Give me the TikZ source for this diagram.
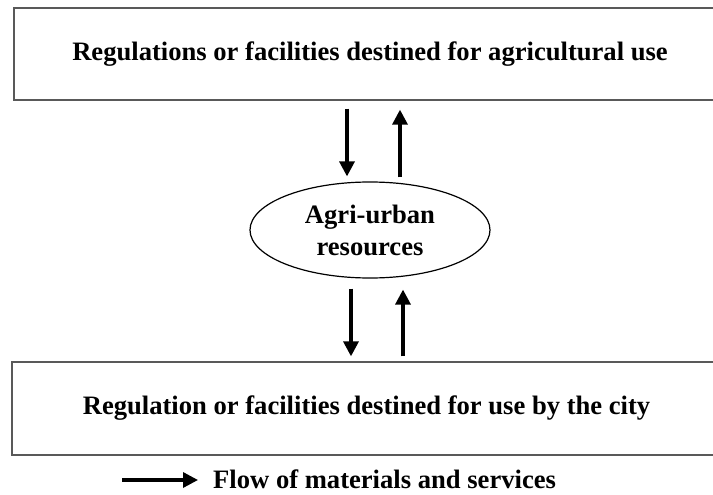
\documentclass[tikz,border=0pt]{standalone}
\usepackage{fontspec}
\setmainfont{Liberation Serif}
\usetikzlibrary{arrows.meta,shapes.geometric}
\tikzset{
  lbl/.style={font=\fontsize{26.6}{32}\selectfont\bfseries, text=black, align=center},
  bigbox/.style={lbl, draw=black!65, line width=1.3pt, rectangle, inner sep=0pt},
  resell/.style={lbl, draw=black, line width=1.2pt, ellipse, inner sep=0pt,
                 minimum width=240pt, minimum height=96pt},
  flow/.style={draw=black, line width=3.3pt, -{Triangle[length=15pt,width=15pt]}}
}
\begin{document}
\begin{tikzpicture}[x=1pt,y=-1pt]
\useasboundingbox (0,0) rectangle (713,495);
\begin{scope}
\clip (0,0) rectangle (713,495);
\node[bigbox, minimum width=712pt, minimum height=92pt] (top) at (370,54)
  {Regulations or facilities destined for agricultural use};
\node[bigbox, minimum width=709pt, minimum height=93pt] (bot) at (366.5,408.5)
  {Regulation or facilities destined for use by the city};
\end{scope}
\node[resell] (ell) at (370,230) {Agri-urban\\resources};

\draw[flow] ([xshift=-23pt,yshift=-8pt]top.south) -- ([xshift=-23pt,yshift=5pt]ell.north);
\draw[flow] ([xshift=30pt,yshift=4pt]ell.north) -- ([xshift=30pt,yshift=-9pt]top.south);
\draw[flow] ([xshift=-19pt,yshift=-10pt]ell.south) -- ([xshift=-15.5pt,yshift=5pt]bot.north);
\draw[flow] ([xshift=36.5pt,yshift=5pt]bot.north) -- ([xshift=33pt,yshift=-11pt]ell.south);

\coordinate (legA) at (122,480);
\coordinate (legB) at (198,480);
\draw[flow] (legA) -- (legB);
\node[lbl, anchor=base west, inner sep=0pt] (legT) at (213,488.5) {Flow of materials and services};
\end{tikzpicture}
\end{document}
